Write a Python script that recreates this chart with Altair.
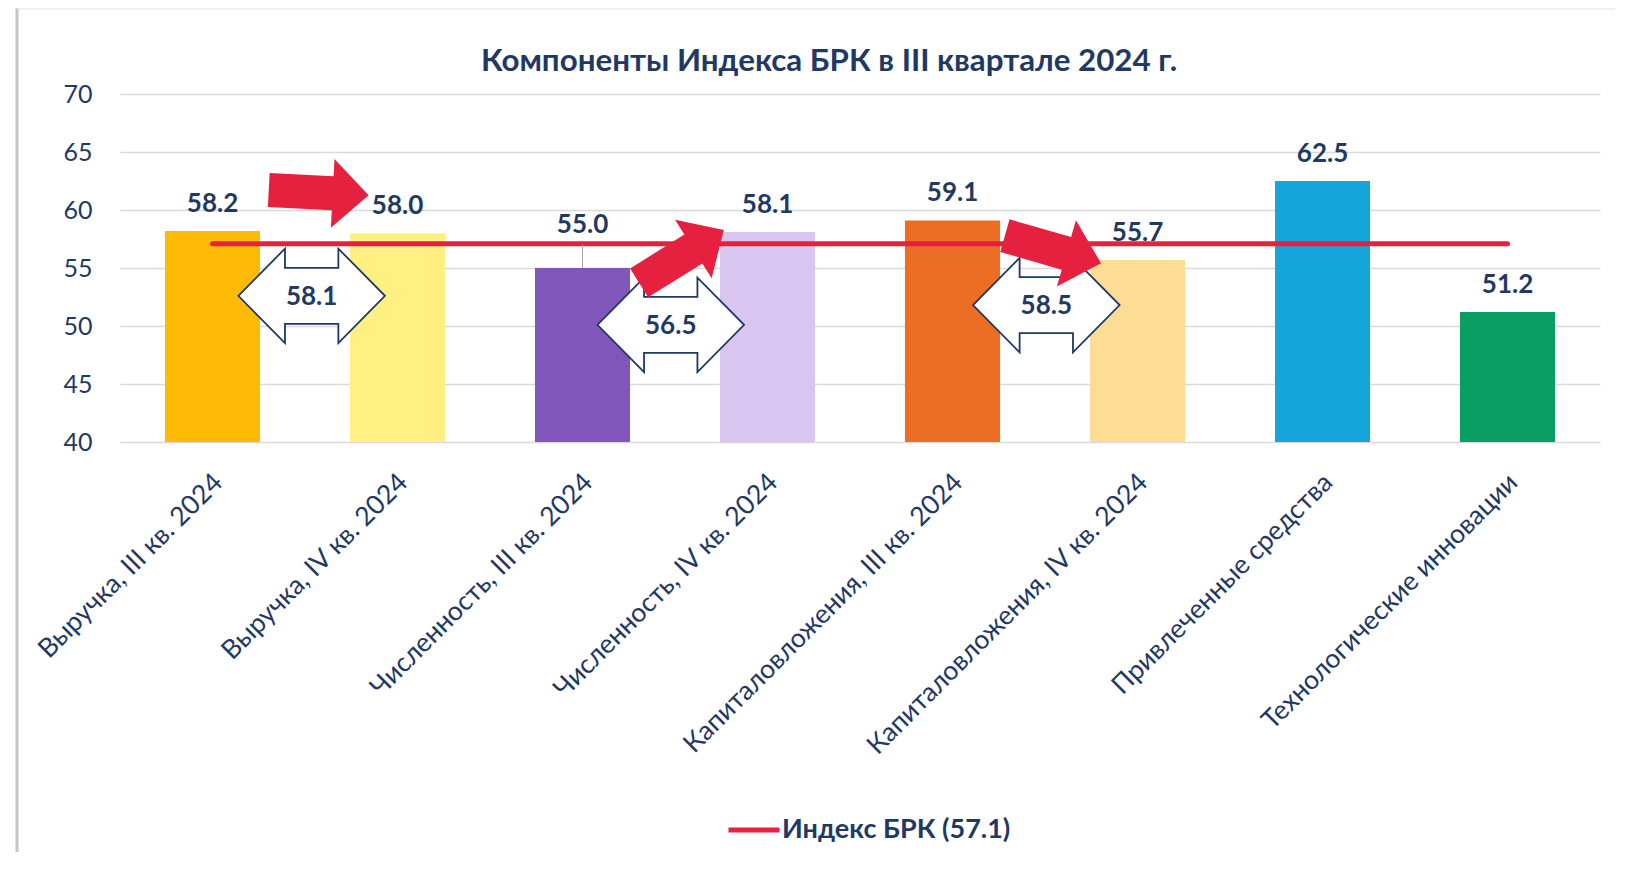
import altair as alt
import pandas as pd

# ---- data ----
categories = [
    "Выручка, III кв. 2024",
    "Выручка, IV кв. 2024",
    "Численность, III кв. 2024",
    "Численность, IV кв. 2024",
    "Капиталовложения, III кв. 2024",
    "Капиталовложения, IV кв. 2024",
    "Привлеченные средства",
    "Технологические инновации",
]
values = [58.2, 58.0, 55.0, 58.1, 59.1, 55.7, 62.5, 51.2]
label_at = [58.2, 58.0, 56.4, 58.1, 59.1, 55.7, 62.5, 51.2]
bar_colors = ["#FDBB05", "#FFF081", "#8056BA", "#D9C6F0",
              "#EC6D24", "#FDDC94", "#16A5DA", "#089E64"]
y_ticks = [40, 45, 50, 55, 60, 65, 70]

index_value = 57.1
index_name = "Индекс БРК (57.1)"

leader_cat = ["Численность, III кв. 2024"]
leader_from = [55.0]
leader_to = [57.0]

pair_pos = [0.536, 2.477, 4.507]
pair_y = [52.6, 50.1, 51.8]
pair_text = ["58.1", "56.5", "58.5"]

arrow_pos = [0.574, 2.535, 4.543]
arrow_y = [61.5, 56.0, 56.6]
arrow_angle = [3, 328, 16]

title = "Компоненты Индекса БРК в III квартале 2024 г."

# ---- styling ----
NAVY = "#1F3864"
RED = "#E6213F"
FONT = "Lato"
W, H = 1480, 348

df = pd.DataFrame({"cat": categories, "value": values, "label_at": label_at,
                   "label": [f"{v:.1f}" for v in values],
                   "index": [index_value] * len(categories),
                   "series": [index_name] * len(categories)})
leader_df = pd.DataFrame({"cat": leader_cat, "y1": leader_from, "y2": leader_to})
pair_df = pd.DataFrame({"pos": pair_pos, "y": pair_y, "text": pair_text})
arrow_df = pd.DataFrame({"pos": arrow_pos, "y": arrow_y, "angle": arrow_angle})

yscale = alt.Scale(domain=[40, 70], nice=False, zero=False)
yaxis = alt.Axis(title=None, values=y_ticks, grid=True, gridColor="#D9D9D9",
                 gridWidth=1.5, domain=False, ticks=False, labelPadding=28,
                 labelFont=FONT, labelFontSize=25, labelColor=NAVY)


def Y(field):
    return alt.Y(field, scale=yscale, axis=yaxis)


xband = alt.X("cat:N", sort=categories,
              scale=alt.Scale(paddingInner=0.486, paddingOuter=0.243),
              axis=alt.Axis(title=None, labelAngle=315, labelAlign="right",
                            labelBaseline="middle", labelPadding=36, labelOffset=6,
                            labelLimit=500, labelOverlap=False, labelFont=FONT,
                            labelFontSize=26.5, labelColor=NAVY, ticks=False,
                            tickSize=0, domain=False, grid=False))

# decorative frame of the original picture (left shadow edge and top edge)
frame_left = alt.Chart(alt.Data(values=[{}])).mark_rule(
    color="#C6C6C6", strokeWidth=3).encode(
    x=alt.value(-103), y=alt.value(-86), y2=alt.value(H + 410))
frame_top = alt.Chart(alt.Data(values=[{}])).mark_rule(
    color="#EAEAEA", strokeWidth=1.5).encode(
    x=alt.value(-103), x2=alt.value(W + 15), y=alt.value(-85))

bars = alt.Chart(df).mark_bar().encode(
    x=xband,
    y=Y("value:Q"),
    y2=alt.datum(40),
    color=alt.Color("cat:N", scale=alt.Scale(domain=categories, range=bar_colors),
                    legend=None),
)

leader = alt.Chart(leader_df).mark_rule(color="#A6A6A6", strokeWidth=1).encode(
    x=alt.X("cat:N", sort=categories),
    y=Y("y1:Q"),
    y2="y2:Q",
)

line = alt.Chart(df).mark_line(strokeWidth=5, strokeCap="round").encode(
    x=alt.X("cat:N", sort=categories),
    y=Y("index:Q"),
    stroke=alt.Stroke("series:N", scale=alt.Scale(range=[RED]),
                      legend=alt.Legend(title=None, orient="none", legendX=606,
                                        legendY=708, symbolType="stroke",
                                        symbolSize=2601, symbolStrokeWidth=5,
                                        labelFont=FONT, labelFontSize=27,
                                        labelFontWeight="bold", labelColor=NAVY,
                                        labelOffset=0, padding=0, labelLimit=500)),
)

labels = alt.Chart(df).mark_text(font=FONT, fontSize=26, fontWeight="bold",
                                 color=NAVY, baseline="alphabetic", dy=-19).encode(
    x=alt.X("cat:N", sort=categories),
    y=Y("label_at:Q"),
    text="label:N",
)

base = alt.layer(frame_left, frame_top, bars, line, leader, labels)

xq = alt.X("pos:Q", scale=alt.Scale(domain=[-0.5, 7.5], nice=False, zero=False),
           axis=None)

DOUBLE = ("M -1 0 L -0.364 -0.644 L -0.364 -0.382 L 0.364 -0.382 L 0.364 -0.644 "
          "L 1 0 L 0.364 0.644 L 0.364 0.382 L -0.364 0.382 L -0.364 0.644 Z")
ARROW = ("M -1 -0.34 L 0.28 -0.34 L 0.28 -0.69 L 1 0 L 0.28 0.69 "
         "L 0.28 0.34 L -1 0.34 Z")

pairs = alt.Chart(pair_df).mark_point(
    shape=DOUBLE, size=21500, filled=True, fill="white", stroke=NAVY,
    strokeWidth=1.8, opacity=1, fillOpacity=1, strokeOpacity=1).encode(
    x=xq, y=Y("y:Q"))

pair_txt = alt.Chart(pair_df).mark_text(
    font=FONT, fontSize=26, fontWeight="bold", color=NAVY,
    baseline="middle", dy=1).encode(
    x=xq, y=Y("y:Q"), text="text:N")

arrows = alt.Chart(arrow_df).mark_point(
    shape=ARROW, size=10000, filled=True, fill=RED, strokeWidth=0,
    opacity=1, fillOpacity=1).encode(
    x=xq, y=Y("y:Q"),
    angle=alt.Angle("angle:Q", scale=None))

ann = alt.layer(pairs, pair_txt, arrows)

chart = alt.layer(base, ann).resolve_scale(x="independent").properties(
    width=W, height=H,
    background="white",
    title=alt.TitleParams(title, font=FONT, fontSize=31.3, fontWeight="bold",
                          color=NAVY, anchor="middle", frame="group", dx=-31,
                          offset=-71),
    autosize=alt.AutoSizeParams(type="none"),
    padding={"left": 112, "top": 86, "right": 15, "bottom": 410},
).configure_view(stroke=None, strokeWidth=0)

chart.save("out.html", embed_options={"renderer": "svg", "actions": False})
